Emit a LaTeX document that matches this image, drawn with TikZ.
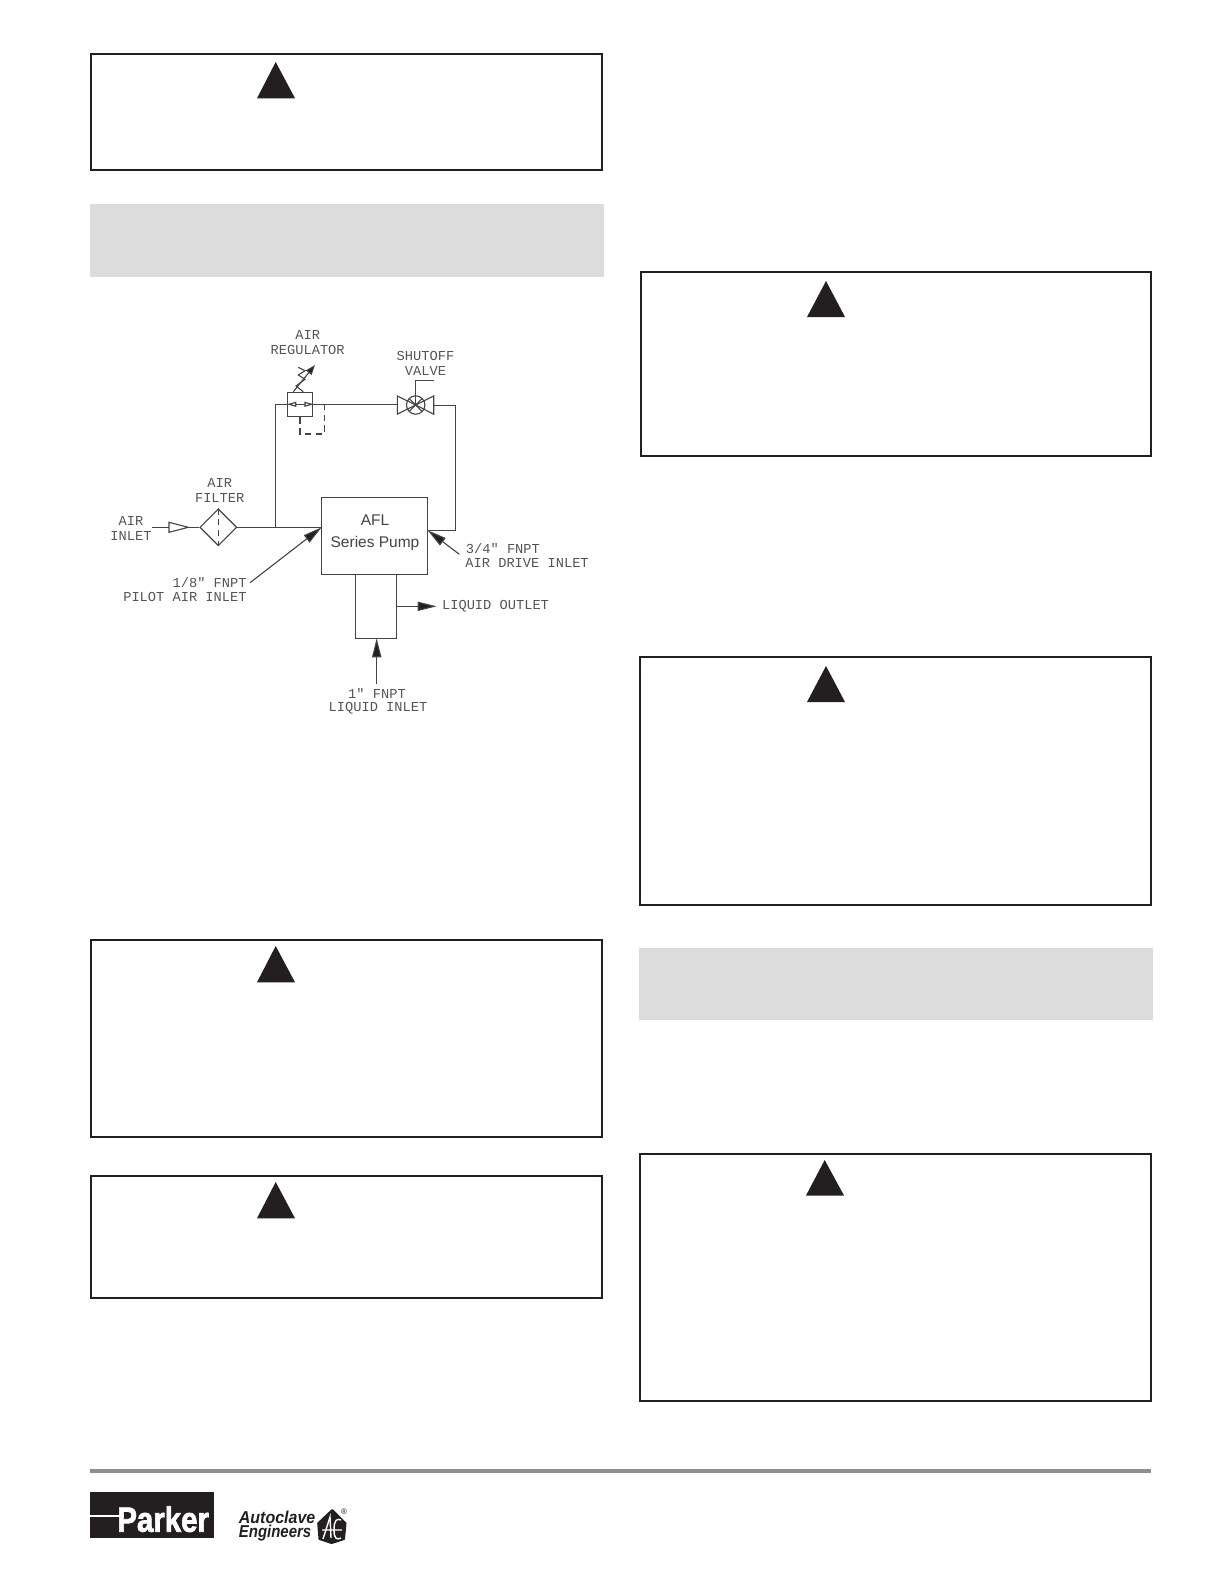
\documentclass[tikz,border=0pt]{standalone}
\usepackage{fontspec}
\usepackage{graphicx}
\setmainfont{Liberation Sans}
\newfontfamily\cadfont{Liberation Mono}
\newfontfamily\parkerfont[BoldFeatures={FakeBold=2.2}]{Liberation Sans}
\usetikzlibrary{arrows.meta,shapes.geometric}
\definecolor{ink}{HTML}{231F20}
\definecolor{band}{HTML}{DCDCDC}
\definecolor{cadline}{HTML}{444444}
\definecolor{cadlabel}{HTML}{555555}
\definecolor{rulegray}{HTML}{8E8E8E}
\tikzset{
  notebox/.style={draw=ink,line width=1.1pt},
  warn/.style={fill=ink,draw=none},
  greyband/.style={fill=band,draw=none},
  cad/.style={draw=cadline,line width=.55pt},
  caddash/.style={cad,dash pattern=on 3.2pt off 2.2pt},
  cadtext/.style={font=\cadfont\fontsize{6.85}{7.5}\selectfont,text=cadlabel,inner sep=0pt},
  pumptext/.style={font=\fontsize{7.75}{9}\selectfont,text=cadline,inner sep=0pt},
  solidhead/.style={-{Triangle[length=9.5pt,width=4.6pt,fill=ink]}},
  part/.style={cad,inner sep=0pt,fill=white},
}
\begin{document}
\begin{tikzpicture}[x=.5pt,y=-.5pt]
\useasboundingbox (0,0) rectangle (1224,1584);
\fill[white] (0,0) rectangle (1224,1584);
% grey bands
\fill[greyband] (90,204) rectangle (604,277);
\fill[greyband] (638.5,948.3) rectangle (1153,1019.5);
% note boxes
\draw[notebox] (91,54) rectangle (602,170);
\draw[notebox] (91,939.8) rectangle (602,1137);
\draw[notebox] (91,1175.7) rectangle (602,1298);
\draw[notebox] (641,271.7) rectangle (1151,456);
\draw[notebox] (640,656.8) rectangle (1151,904.7);
\draw[notebox] (640,1153.7) rectangle (1151,1401);
% warning triangles
\fill[warn] (275.7,62) -- (295,98.3) -- (257,98.3) -- cycle;
\fill[warn] (275.7,946) -- (295,982.3) -- (257,982.3) -- cycle;
\fill[warn] (275.7,1182) -- (295,1218.3) -- (257,1218.3) -- cycle;
\fill[warn] (826,281) -- (845,317) -- (807,317) -- cycle;
\fill[warn] (826,666) -- (845,702) -- (807,702) -- cycle;
\fill[warn] (824.7,1160) -- (844,1195.5) -- (806,1195.5) -- cycle;
% ---------- flow diagram ----------
\node[part,draw,minimum width=53pt,minimum height=38.5pt] (pump) at (374.7,536.2) {};
\node[part,draw,minimum width=20.7pt,minimum height=31.8pt] (barrel) at (376,606.5) {};
\node[pumptext] (afl) at (375,520) {AFL};
\node[pumptext] (series) at (375,543.3) {Series Pump};
\node[part,draw,diamond,aspect=1,minimum width=18.5pt,minimum height=18.5pt] (filter) at (218.3,527.3) {};
\node[part,draw,minimum width=12.3pt,minimum height=12.2pt] (reg) at (300,404.5) {};
\coordinate (tee) at (275.7,527.3);
\coordinate (pumpair) at (321.7,527.3);
\coordinate (pumpdrive) at (427.7,530.3);
\coordinate (teeup) at (275.7,404.3);
\coordinate (valveL) at (397.3,404.3);
\coordinate (valveR) at (433.7,405.3);
\coordinate (valveC) at (415.7,405);
\coordinate (corner1) at (455.7,405.3);
\coordinate (corner2) at (455.7,530.3);
\coordinate (inA) at (151.7,527.3);
% piping
\draw[cad] (inA) -- (filter.west);
\draw[cad] (filter.east) -- (pumpair);
\draw[cad] (tee) -- (teeup) -- (valveL);
\draw[cad] (valveR) -- (corner1) -- (corner2) -- (pumpdrive);
\draw[caddash] (filter.north) -- (filter.south);
% inlet hollow arrow
\draw[cad,fill=white] (169,522.3) -- (188.3,527.3) -- (169,532.3) -- cycle;
% regulator
\draw[cad,fill=white] (295.7,402.4) -- (289,404.3) -- (295.7,406.2) -- cycle;
\draw[cad,fill=white] (305,402.4) -- (311.7,404.3) -- (305,406.2) -- cycle;
\draw[caddash] (reg.south) -- (300,434) -- (324.3,434) -- (324.3,404.3);
\draw[cad] (303.3,391.7) -- (296,386) -- (305,379.3) -- (298.3,375) -- (305,370.7) -- (298.3,367.3);
\draw[cad,-{Triangle[length=5pt,width=3.6pt,fill=ink]}] (293.3,391.7) -- (315,365);
% valve
\draw[cad,fill=white] (397.3,396) -- (valveC) -- (397.3,414.2) -- cycle;
\draw[cad,fill=white] (433.7,396) -- (valveC) -- (433.7,414.2) -- cycle;
\draw[cad] (valveC) circle[radius=4.6pt];
\draw[cad] (valveC) ++(-6.5,-6.5) -- ++(13,13) (valveC) ++(6.5,-6.5) -- ++(-13,13);
\coordinate (stemtop) at (415.7,380.7);
\coordinate (stemend) at (434,380.7);
\draw[cad] (valveC) -- (stemtop) -- (stemend);
% labelled arrows
\coordinate (pilotS) at (250,582.7);
\coordinate (driveS) at (459.3,554.3);
\coordinate (liqS) at (376.7,684);
\coordinate (liqE) at (376.7,638.3);
\coordinate (outS) at (396.7,606.3);
\coordinate (outE) at (436.7,606.3);
\draw[cad,solidhead] (pilotS) -- (pumpair);
\draw[cad,solidhead] (driveS) -- (pumpdrive);
\draw[cad,solidhead] (liqS) -- (liqE);
\draw[cad,solidhead] (outS) -- (outE);
% labels
\node[cadtext] (t1) at (131,521) {AIR};
\node[cadtext] (t2) at (131,536.3) {INLET};
\node[cadtext] (t3) at (219.7,483.3) {AIR};
\node[cadtext] (t4) at (219.7,498.3) {FILTER};
\node[cadtext] (t5) at (307.7,335.3) {AIR};
\node[cadtext] (t6) at (307.7,350) {REGULATOR};
\node[cadtext] (t7) at (425.5,355.5) {SHUTOFF};
\node[cadtext] (t8) at (425.5,370.5) {VALVE};
\node[cadtext,anchor=east] (t9) at (247,582.7) {1/8" FNPT};
\node[cadtext,anchor=east] (t10) at (247,597.3) {PILOT AIR INLET};
\node[cadtext,anchor=west] (t11) at (465.5,548.3) {3/4" FNPT};
\node[cadtext,anchor=west] (t12) at (465,563.3) {AIR DRIVE INLET};
\node[cadtext,anchor=west] (t13) at (441.7,606) {LIQUID OUTLET};
\node[cadtext] (t14) at (377,694) {1" FNPT};
\node[cadtext] (t15) at (378,708.3) {LIQUID INLET};
% ---------- footer ----------
\fill[rulegray] (90,1469.2) rectangle (1151,1473);
\fill[ink] (90,1491.7) rectangle (214.3,1538.3);
\fill[white] (90,1514.6) rectangle (124,1516.6);
\node[inner sep=0pt,anchor=base west,text=white,font=\parkerfont\fontsize{17.5}{18}\bfseries\selectfont] (parker) at (117,1531.7) {\scalebox{.84}[1]{Parker}};
\node[inner sep=0pt,anchor=base west,text=ink,font=\fontsize{8.6}{9}\bfseries\itshape\selectfont] (auto) at (238.5,1523.5) {\scalebox{.93}[1]{Autoclave}};
\node[inner sep=0pt,anchor=base west,text=ink,font=\fontsize{8.6}{9}\bfseries\itshape\selectfont] (eng) at (238.5,1537.7) {\scalebox{.87}[1]{Engineers}};
\fill[ink,draw=ink,line width=1pt,line join=round] (332.3,1510) -- (345.5,1523.3) -- (344,1539) -- (331.7,1543) -- (319.5,1539) -- (318.2,1523.3) -- cycle;
\draw[white,line width=.7pt] (323,1539) -- (330,1517) -- (331,1538) (322,1530) -- (342,1530) (334,1530) .. controls (334,1520) and (337,1518) .. (341,1520) (334,1530) .. controls (334,1539) and (337,1540) .. (341,1538);
\node[inner sep=0pt,text=ink,font=\fontsize{4}{4}\selectfont] (reg mark) at (344,1511.5) {®};
\end{tikzpicture}
\end{document}
